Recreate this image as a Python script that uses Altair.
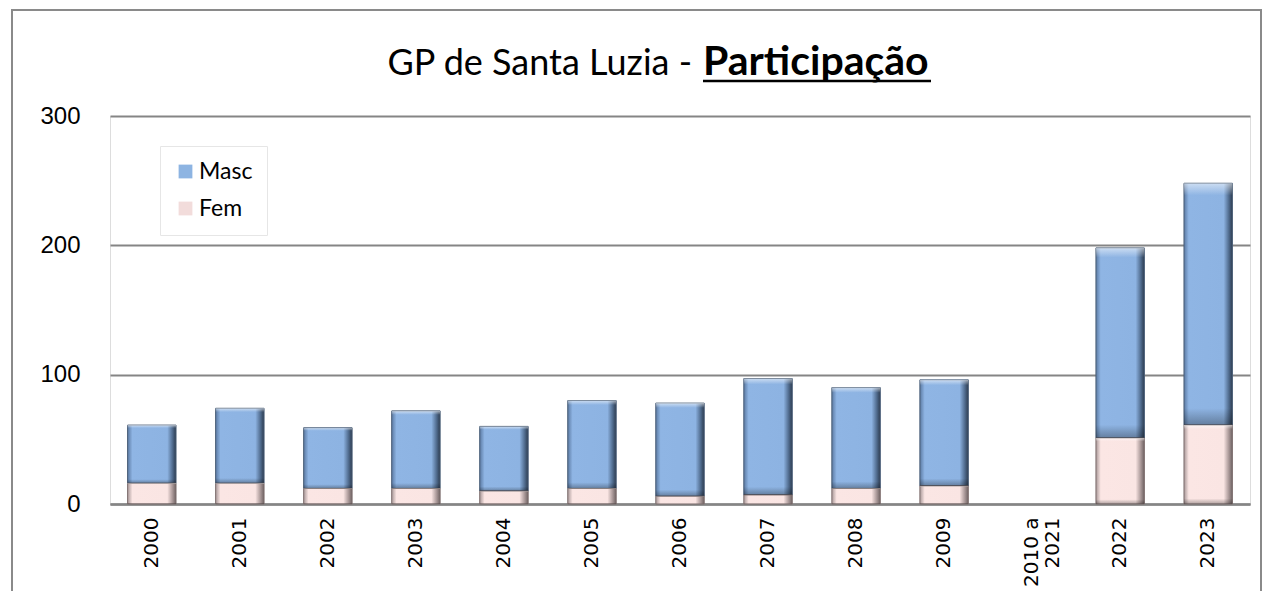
import altair as alt
import pandas as pd

years = ["2000", "2001", "2002", "2003", "2004", "2005", "2006", "2007",
         "2008", "2009", "2010 a\n2021", "2022", "2023"]
fem = [16, 16, 12, 12, 10, 12, 6, 7, 12, 14, None, 51, 61]
masc = [45, 58, 47, 60, 50, 68, 72, 90, 78, 82, None, 147, 187]
series = ["Masc", "Fem"]
y_ticks = [0, 100, 200, 300]

rows = []
for yr, f, m in zip(years, fem, masc):
    if f is not None:
        rows.append({"ano": yr, "serie": "Fem", "valor": f, "ordem": 0})
    if m is not None:
        rows.append({"ano": yr, "serie": "Masc", "valor": m, "ordem": 1})
df = pd.DataFrame(rows)

FONT = "Lato"
W, H = 1140, 388

x_enc = alt.X("ano:N", sort=years, scale=alt.Scale(domain=years, paddingInner=0.45, paddingOuter=0.2),
              axis=alt.Axis(title=None, labelAngle=-90, labelFontSize=20, labelFont="DejaVu Sans",
                            labelColor="black", labelPadding=13, ticks=False,
                            domain=True, domainColor="#858585", domainWidth=2.5,
                            labelExpr="split(datum.label, '\\n')", labelLineHeight=21,
                            labelAlign="right", labelBaseline="middle"))
y_scale = alt.Scale(domain=[0, 300], nice=False)

base_bars = alt.Chart(df).mark_bar().encode(
    x=x_enc,
    y=alt.Y("valor:Q", stack="zero", scale=y_scale,
            axis=alt.Axis(title=None, values=y_ticks, grid=True, gridColor="#858585", gridWidth=2,
                          domain=False, ticks=False, labelFontSize=24, labelFont="Liberation Sans",
                          labelColor="black", labelPadding=30)),
    color=alt.Color("serie:N", scale=alt.Scale(domain=series, range=["#8db4e2", "#f2dcdb"]),
                    legend=alt.Legend(title=None, orient="none", legendX=50, legendY=30,
                                      fillColor="white", strokeColor="#e6e6e6", padding=14,
                                      symbolType="square", symbolSize=190, symbolStrokeWidth=0,
                                      labelFontSize=23, labelFont=FONT, labelColor="black",
                                      rowPadding=13, labelOffset=2)),
    order=alt.Order("ordem:Q"),
)

masc_grad = alt.Gradient(gradient="linear", x1=0, x2=1, y1=0, y2=0, stops=[
    alt.GradientStop(offset=0, color="#5b7aa3"),
    alt.GradientStop(offset=0.1, color="#8fb5e4"),
    alt.GradientStop(offset=0.82, color="#8db3e2"),
    alt.GradientStop(offset=0.93, color="#4f6a8c"),
    alt.GradientStop(offset=1, color="#2c3b4f"),
])
fem_grad = alt.Gradient(gradient="linear", x1=0, x2=1, y1=0, y2=0, stops=[
    alt.GradientStop(offset=0, color="#a89898"),
    alt.GradientStop(offset=0.1, color="#fbe6e4"),
    alt.GradientStop(offset=0.82, color="#fae5e3"),
    alt.GradientStop(offset=0.93, color="#a69595"),
    alt.GradientStop(offset=1, color="#6e6262"),
])
shade_grad = alt.Gradient(gradient="linear", x1=0, x2=0, y1=0, y2=1, stops=[
    alt.GradientStop(offset=0, color="rgba(255,255,255,0.55)"),
    alt.GradientStop(offset=0.05, color="rgba(255,255,255,0)"),
    alt.GradientStop(offset=0.93, color="rgba(0,0,0,0)"),
    alt.GradientStop(offset=1, color="rgba(0,0,0,0.3)"),
])

stacked = alt.Chart(df).transform_stack(
    stack="valor", groupby=["ano"], as_=["y0", "y1"], sort=[alt.SortField("ordem")]
)
masc_bars = stacked.transform_filter(alt.datum.serie == "Masc").mark_bar(
    fill=masc_grad, stroke="#4a5d75", strokeWidth=1).encode(
    x=alt.X("ano:N", sort=years), y=alt.Y("y1:Q", scale=y_scale), y2="y0:Q")
fem_bars = stacked.transform_filter(alt.datum.serie == "Fem").mark_bar(
    fill=fem_grad, stroke="#7d6e6e", strokeWidth=1).encode(
    x=alt.X("ano:N", sort=years), y=alt.Y("y1:Q", scale=y_scale), y2="y0:Q")
shade_bars = stacked.mark_bar(fill=shade_grad, strokeWidth=0).encode(
    x=alt.X("ano:N", sort=years), y=alt.Y("y1:Q", scale=y_scale), y2="y0:Q")

one = pd.DataFrame({"k": [0]})
frame = alt.Chart(one).mark_rect(fill=None, stroke="#8a8a8a", strokeWidth=2).encode(
    x=alt.value(-98), x2=alt.value(1151), y=alt.value(-106), y2=alt.value(600))
title_a = alt.Chart(one).mark_text(align="right", baseline="alphabetic", fontSize=36,
                                   font=FONT, color="black").encode(
    x=alt.value(582), y=alt.value(-41), text=alt.value("GP de Santa Luzia -"))
title_b = alt.Chart(one).mark_text(align="left", baseline="alphabetic", fontSize=41,
                                   font=FONT, fontWeight="bold", color="black").encode(
    x=alt.value(593), y=alt.value(-41), text=alt.value("Participação"))
underline = alt.Chart(one).mark_rule(color="black", strokeWidth=2.5).encode(
    x=alt.value(593), x2=alt.value(821), y=alt.value(-35))

chart = alt.layer(base_bars, masc_bars, fem_bars, shade_bars, frame, title_a, title_b, underline).properties(
    width=W, height=H,
    autosize=alt.AutoSizeParams(type="none"),
    padding={"left": 102, "top": 108, "right": 12, "bottom": 87},
).configure_view(fill="#f2f2f2", stroke=None).configure(background="white")

chart.save("out.html", embed_options={"renderer": "svg", "actions": False})
